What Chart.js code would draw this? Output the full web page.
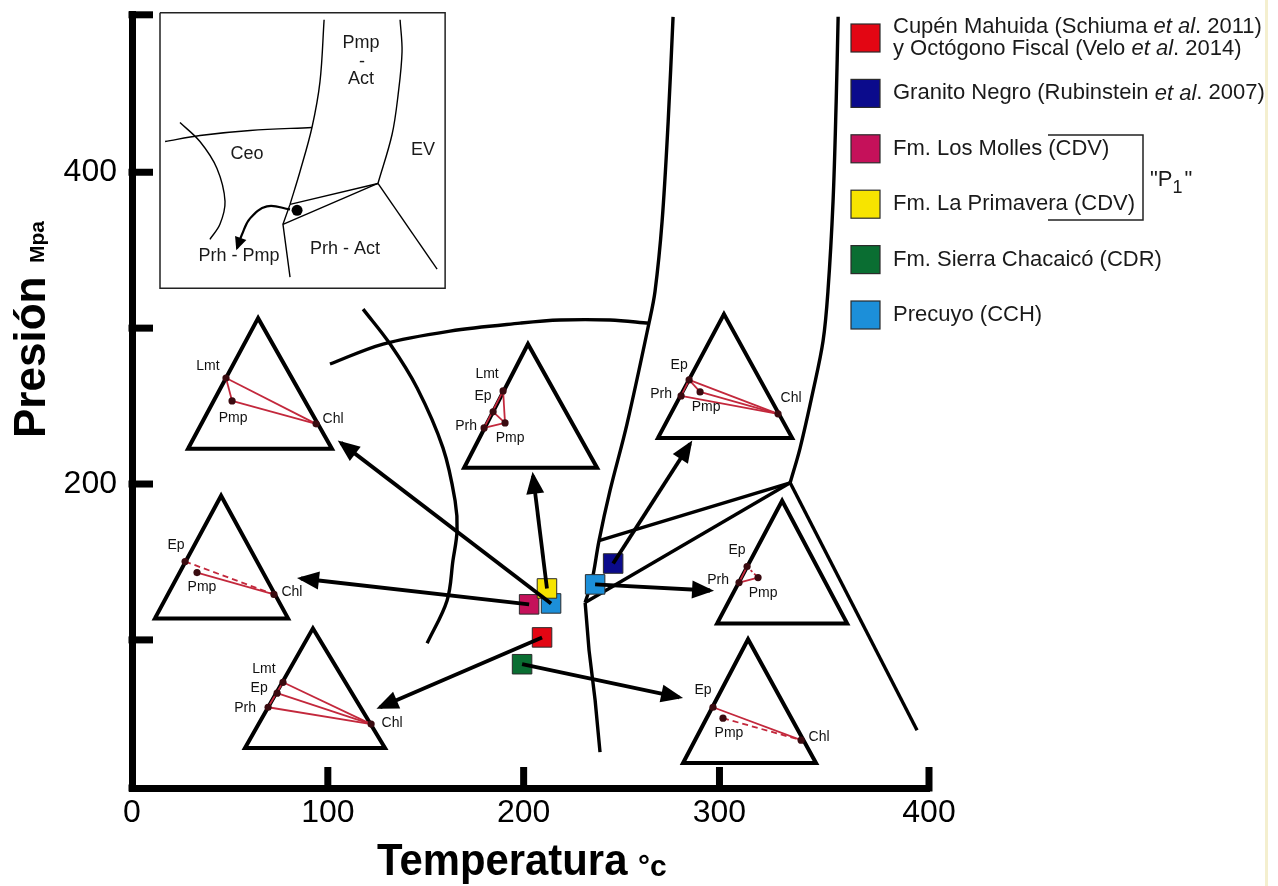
<!DOCTYPE html>
<html><head><meta charset="utf-8">
<script src="https://cdn.jsdelivr.net/npm/chart.js@4.4.1/dist/chart.umd.min.js"></script>
<style>html,body{margin:0;padding:0;background:#fff;}canvas{display:block;}</style>
</head><body>
<canvas id="c" width="1278" height="886"></canvas>
<script>
// ---------- Axis ticks ----------
const xTickValues = [0, 100, 200, 300, 407];
const xTickLabels = ['0', '100', '200', '300', '400'];
const yTickValues = [100, 200, 300, 400];
const yTickLabels = ['', '200', '', '400'];

// ---------- Series (Temperatura °C, Presión MPa) ----------
const seriesNames = [
  'Cupén Mahuida (Schiuma et al. 2011)\ny Octógono Fiscal (Velo et al. 2014)',
  'Granito Negro (Rubinstein et al. 2007)',
  'Fm. Los Molles (CDV)',
  'Fm. La Primavera (CDV)',
  'Fm. Sierra Chacaicó (CDR)',
  'Precuyo (CCH)'
];
const seriesColors = ['#e30613', '#0b0b8c', '#c5115a', '#f7e400', '#0a6e32', '#1c8fd9'];
const cupenT = [209.4], cupenP = [101.6];
const granitoT = [245.7], granitoP = [149.0];
const mollesT = [202.8], mollesP = [122.8];
const primaveraT = [211.9], primaveraP = [133.0];
const sierraT = [199.2], sierraP = [84.4];
const precuyoT = [214.0, 236.5], precuyoP = [123.4, 135.6];

// ---------- Facies boundaries ----------
const bWestT = [276.3, 273.8, 270.7, 267.1, 264.0, 252.8, 244.1, 238.5, 234.9, 231.4];
const bWestP = [499.7, 432.5, 368.5, 323.7, 303.2, 238.6, 195.7, 163.7, 138.1, 124.0];
const bLowT = [231.4, 233.4, 236.5, 239.0];
const bLowP = [124.0, 93.3, 61.3, 28.0];
const bEvT = [360.6, 359.6, 358.0, 355.4, 352.9, 347.8, 341.2, 336.1];
const bEvP = [499.7, 445.3, 381.3, 323.7, 291.7, 259.7, 223.2, 200.8];
const bSouthT = [336.1, 400.9], bSouthP = [200.8, 42.1];
const bWedgeUpT = [238.5, 336.1], bWedgeUpP = [163.7, 200.8];
const bWedgeLowT = [231.4, 336.1], bWedgeLowP = [124.0, 200.8];
const bTopT = [101.1, 128.2, 162.4, 198.2, 218.6, 244.1, 264.0];
const bTopP = [277.0, 289.8, 298.1, 303.2, 305.2, 305.2, 303.2];
const bCeoT = [118.0, 131.8, 145.6, 158.8, 165.0, 166.0, 163.9, 160.9, 150.7];
const bCeoP = [312.2, 289.8, 261.6, 223.2, 189.3, 170.1, 150.9, 125.3, 97.8];

// ---------- Arrows (from sample to ternary diagram) ----------
const arrowFromT = [214.0, 211.9, 202.8, 209.4, 199.2, 236.5, 245.7];
const arrowFromP = [123.4, 133.0, 122.8, 101.6, 84.4, 135.6, 149.0];
const arrowTipT = [106.7, 204.8, 86.3, 126.7, 279.4, 295.2, 285.0];
const arrowTipP = [226.4, 205.3, 139.4, 56.8, 63.2, 131.7, 225.8];

// ---------- Ternary diagrams ----------
const triApexT = [64.4, 202.2, 302.3, 332.0, 314.6, 45.5, 92.4];
const triApexP = [306.4, 289.8, 309.0, 189.3, 100.4, 192.5, 107.4];
const triLeftT = [28.6, 169.6, 268.6, 298.8, 281.4, 11.7, 57.7];
const triRightT = [102.1, 237.5, 337.1, 365.2, 349.3, 79.7, 129.2];
const triBaseP = [222.6, 210.4, 229.6, 110.6, 21.0, 113.8, 30.6];
const minNames = [['Lmt','Pmp','Chl'], ['Lmt','Ep','Prh','Pmp'], ['Ep','Prh','Pmp','Chl'], ['Ep','Prh','Pmp'], ['Ep','Pmp','Chl'], ['Ep','Pmp','Chl'], ['Lmt','Ep','Prh','Chl']];
const minT = [[48.0,51.1,94.0], [189.5,184.4,179.8,190.5], [284.5,280.4,290.1,329.9], [314.1,310.0,319.7], [296.7,301.8,341.7], [27.1,33.2,72.5], [77.1,74.1,69.5,122.1]];
const minP = [[268.0,253.3,238.6], [259.7,246.3,236.0,239.2], [266.8,256.5,259.1,245.0], [147.1,136.8,140.0], [56.8,49.8,35.7], [150.3,143.2,129.2], [72.8,65.8,56.8,46.0]];
const tieSolid = [[[0,2],[0,1],[1,2]], [[0,2],[0,3],[2,3],[1,3]], [[0,1],[0,3],[1,3],[2,3],[0,2]], [[0,1],[1,2]], [[0,2]], [[1,2]], [[0,3],[1,3],[2,3],[0,2]]];
const tieDashed = [[], [], [], [[0,2]], [[1,2]], [[0,2]], []];

// ---------- Inset sketch ----------
const insetBoxT = [14.3, 159.9, 159.9, 14.3, 14.3], insetBoxP = [502.3, 502.3, 325.6, 325.6, 502.3];
const iWestT = [98.1, 96.0, 91.9, 85.8, 80.7], iWestP = [497.8, 458.1, 428.7, 400.5, 379.4];
const iWestLowT = [80.7, 77.1, 80.7], iWestLowP = [379.4, 366.6, 332.7];
const iEastT = [136.9, 137.9, 135.9, 132.8, 125.6], iEastP = [497.8, 477.3, 449.8, 424.2, 392.8];
const iSouthT = [125.6, 155.8], iSouthP = [392.8, 337.8];
const iWedgeUpT = [80.7, 125.6], iWedgeUpP = [379.4, 392.8];
const iWedgeLowT = [77.1, 125.6], iWedgeLowP = [366.6, 392.8];
const iTopT = [16.9, 34.7, 60.3, 91.9], iTopP = [419.7, 423.6, 426.8, 428.7];
const iCeoT = [24.5, 34.7, 43.4, 47.5, 44.9, 39.8], iCeoP = [431.9, 419.7, 402.4, 381.3, 366.6, 357.0];
const iDotT = [84.3], iDotP = [375.6];
const iPathT = [80.7, 68.9, 60.3, 56.2, 53.6], iPathP = [376.2, 378.1, 370.4, 360.2, 351.2];
const iLabels = ['Pmp', '-', 'Act', 'Ceo', 'EV', 'Prh - Pmp', 'Prh - Act'];
const iLabelT = [117.0, 117.5, 117.0, 58.7, 148.6, 54.6, 108.8];
const iLabelP = [483.1, 470.9, 460.0, 412.0, 414.0, 346.1, 350.6];

// ---------- Styles (pixels) ----------
const FONT = '"Liberation Sans", Arial, sans-serif';
const RED = '#c3283c';
const labelOffsets = [
  [[-18,-12],[1,17],[17,-5]],
  [[-16,-17],[-10,-16],[-18,-2],[5,15]],
  [[-10,-15],[-20,-2],[6,15],[13,-16]],
  [[-10,-16],[-21,-2],[5,16]],
  [[-10,-17],[6,15],[18,-3]],
  [[-9,-16],[5,15],[18,-2]],
  [[-19,-13],[-18,-5],[-23,1],[21,-1]]
];
const dashStyles = [[], [], [], [2.5,2.5], [6,4], [6,4], []];

Chart.defaults.font.family = FONT;
Chart.defaults.color = '#000';

const xy = (T, P) => T.map((t, i) => ({x: t, y: P[i]}));
const datasets = [];
function lineDs(T, P, style) {
  datasets.push(Object.assign({
    data: xy(T, P), showLine: true, pointRadius: 0, pointHoverRadius: 0,
    borderColor: '#000', backgroundColor: '#000', fill: false, clip: false,
    borderCapStyle: 'butt', borderJoinStyle: 'round', tension: 0
  }, style));
}

// boundaries
const BW = 3.4;
lineDs(bWestT, bWestP, {borderWidth: BW, tension: 0.35, order: 7});
lineDs(bLowT, bLowP, {borderWidth: BW, order: 7});
lineDs(bEvT, bEvP, {borderWidth: BW, tension: 0.35, order: 7});
lineDs(bSouthT, bSouthP, {borderWidth: BW, order: 7});
lineDs(bWedgeUpT, bWedgeUpP, {borderWidth: BW, order: 7});
lineDs(bWedgeLowT, bWedgeLowP, {borderWidth: BW, order: 7});
lineDs(bTopT, bTopP, {borderWidth: BW, tension: 0.35, order: 7});
lineDs(bCeoT, bCeoP, {borderWidth: BW, tension: 0.35, order: 7});

// ternary triangles, tie lines and minerals
triApexT.forEach((a, t) => {
  lineDs([triLeftT[t], a, triRightT[t], triLeftT[t], a],
         [triBaseP[t], triApexP[t], triBaseP[t], triBaseP[t], triApexP[t]],
         {borderWidth: 4, borderJoinStyle: 'miter', order: 6});
  tieSolid[t].forEach(([i, j]) => lineDs([minT[t][i], minT[t][j]], [minP[t][i], minP[t][j]],
    {borderWidth: 1.8, borderColor: RED, order: 5}));
  tieDashed[t].forEach(([i, j]) => lineDs([minT[t][i], minT[t][j]], [minP[t][i], minP[t][j]],
    {borderWidth: 1.8, borderColor: RED, borderDash: dashStyles[t], order: 5}));
  datasets.push({data: xy(minT[t], minP[t]), showLine: false, pointRadius: 3.6, pointHoverRadius: 3.6,
    pointBackgroundColor: '#3a0b10', pointBorderColor: '#3a0b10', pointBorderWidth: 0, clip: false, order: 4});
});

// inset sketch
const IW = 1.4;
lineDs(insetBoxT, insetBoxP, {borderWidth: 1.5, borderColor: '#222', borderJoinStyle: 'miter', order: 3});
lineDs(iWestT, iWestP, {borderWidth: IW, tension: 0.35, order: 3});
lineDs(iWestLowT, iWestLowP, {borderWidth: IW, order: 3});
lineDs(iEastT, iEastP, {borderWidth: IW, tension: 0.35, order: 3});
lineDs(iSouthT, iSouthP, {borderWidth: IW, order: 3});
lineDs(iWedgeUpT, iWedgeUpP, {borderWidth: IW, order: 3});
lineDs(iWedgeLowT, iWedgeLowP, {borderWidth: IW, order: 3});
lineDs(iTopT, iTopP, {borderWidth: IW, tension: 0.35, order: 3});
lineDs(iCeoT, iCeoP, {borderWidth: IW, tension: 0.35, order: 3});
lineDs(iPathT, iPathP, {borderWidth: 2.2, tension: 0.4, order: 3, arrow: {len: 13, half: 6, ext: 2}});
datasets.push({data: xy(iDotT, iDotP), showLine: false, pointRadius: 5.5, pointHoverRadius: 5.5,
  pointBackgroundColor: '#000', pointBorderWidth: 0, clip: false, order: 3});

// sample squares
const seriesT = [cupenT, granitoT, mollesT, primaveraT, sierraT, precuyoT];
const seriesP = [cupenP, granitoP, mollesP, primaveraP, sierraP, precuyoP];
seriesNames.forEach((n, i) => datasets.push({
  label: n, data: xy(seriesT[i], seriesP[i]), showLine: false, pointStyle: 'rect',
  pointRadius: 13.8, pointHoverRadius: 13.8, pointBackgroundColor: seriesColors[i],
  pointBorderColor: '#2b2b2b', pointBorderWidth: 1, clip: false, order: i === 3 ? 1 : 2
}));

// arrows
arrowTipT.forEach((t, i) => lineDs([arrowFromT[i], t], [arrowFromP[i], arrowTipP[i]],
  {borderWidth: 3.8, order: 0, arrow: {len: 22, half: 9, ext: 4}}));

const decor = {
  id: 'decor',
  afterDatasetsDraw(chart) {
    const ctx = chart.ctx;
    chart.data.datasets.forEach((ds, i) => {
      if (!ds.arrow) return;
      const pts = chart.getDatasetMeta(i).data;
      const b = pts[pts.length - 1];
      let ax, ay;
      if (ds.tension > 0 && b.cp1x !== undefined && (b.cp1x !== b.x || b.cp1y !== b.y)) { ax = b.cp1x; ay = b.cp1y; }
      else { ax = pts[pts.length - 2].x; ay = pts[pts.length - 2].y; }
      const ang = Math.atan2(b.y - ay, b.x - ax);
      const {len, half, ext} = ds.arrow;
      ctx.save();
      ctx.translate(b.x, b.y); ctx.rotate(ang);
      ctx.fillStyle = '#000';
      ctx.beginPath(); ctx.moveTo(ext, 0); ctx.lineTo(ext - len, half); ctx.lineTo(ext - len, -half); ctx.closePath(); ctx.fill();
      ctx.restore();
    });
  },
  afterDraw(chart) {
    const ctx = chart.ctx, xs = chart.scales.x, ys = chart.scales.y, ca = chart.chartArea;
    ctx.save();
    // inward tick marks and axis end caps
    ctx.fillStyle = '#000';
    ys.ticks.forEach(t => { const py = ys.getPixelForValue(t.value); ctx.fillRect(ca.left - 3.5, py - 3.5, 24.5, 7); });
    ctx.fillRect(ca.left - 3.5, ca.top - 3.5, 24.5, 7);
    xs.ticks.forEach(t => { if (t.value === xs.min) return; const px = xs.getPixelForValue(t.value); ctx.fillRect(px - 3.5, ca.bottom - 21, 7, 24.5); });
    ctx.fillRect(ca.left - 3.5, ca.bottom - 3.5, 7, 7);

    // axis titles
    ctx.fillStyle = '#000';
    ctx.textAlign = 'left'; ctx.textBaseline = 'alphabetic';
    ctx.save();
    ctx.translate(45, 438); ctx.rotate(-Math.PI / 2);
    ctx.font = 'bold 44px ' + FONT; ctx.fillText('Presión', 0, 0);
    ctx.font = 'bold 21px ' + FONT; ctx.fillText('Mpa', 175, -1);
    ctx.restore();
    ctx.save();
    ctx.translate(377, 875); ctx.scale(0.93, 1);
    ctx.font = 'bold 45px ' + FONT; ctx.fillText('Temperatura', 0, 0);
    ctx.restore();
    ctx.font = 'bold 30px ' + FONT; ctx.fillText('°c', 638, 876);

    // ternary labels
    ctx.font = '14px ' + FONT; ctx.fillStyle = '#111';
    ctx.textAlign = 'center'; ctx.textBaseline = 'middle';
    minNames.forEach((names, t) => names.forEach((n, j) => {
      const px = xs.getPixelForValue(minT[t][j]) + labelOffsets[t][j][0];
      const py = ys.getPixelForValue(minP[t][j]) + labelOffsets[t][j][1];
      ctx.fillText(n, px, py);
    }));
    // inset labels
    ctx.font = '18px ' + FONT; ctx.fillStyle = '#1a1a1a';
    iLabels.forEach((n, i) => ctx.fillText(n, xs.getPixelForValue(iLabelT[i]), ys.getPixelForValue(iLabelP[i])));

    // legend
    const L = {sqX: 851, sqW: 29, sqH: 28, cy0: 38, step: 55.4, textX: 893, size: 22, lineH: 22};
    ctx.textAlign = 'left'; ctx.textBaseline = 'middle';
    seriesNames.forEach((name, i) => {
      const cy = L.cy0 + i * L.step;
      ctx.fillStyle = seriesColors[i];
      ctx.fillRect(L.sqX, cy - L.sqH / 2, L.sqW, L.sqH);
      ctx.strokeStyle = '#2b2b2b'; ctx.lineWidth = 1.2;
      ctx.strokeRect(L.sqX, cy - L.sqH / 2, L.sqW, L.sqH);
      const lines = name.split('\n');
      lines.forEach((ln, k) => {
        const y = cy - (lines.length - 1) * L.lineH / 2 + k * L.lineH;
        let x = L.textX;
        ln.split(/(et al)/).forEach(p => {
          if (!p) return;
          ctx.font = (p === 'et al' ? 'italic ' : '') + L.size + 'px ' + FONT;
          ctx.fillStyle = '#1a1a1a';
          ctx.fillText(p, x, y);
          x += ctx.measureText(p).width;
        });
      });
    });
    // bracket for "P1"
    ctx.strokeStyle = '#222'; ctx.lineWidth = 1.5;
    ctx.beginPath(); ctx.moveTo(1048, 135); ctx.lineTo(1143, 135); ctx.lineTo(1143, 220); ctx.lineTo(1048, 220); ctx.stroke();
    ctx.fillStyle = '#1a1a1a'; ctx.textBaseline = 'alphabetic';
    ctx.font = '22px ' + FONT; ctx.fillText('"P', 1150, 186);
    let w = ctx.measureText('"P').width;
    ctx.font = '18px ' + FONT; ctx.fillText('1', 1150 + w, 193);
    const w1 = ctx.measureText('1').width;
    ctx.font = '22px ' + FONT; ctx.fillText('"', 1152 + w + w1, 186);

    // faint right edge line
    ctx.fillStyle = '#f4efcf'; ctx.fillRect(1265, 0, 3, 886);
    ctx.restore();
  }
};

new Chart(document.getElementById('c'), {
  type: 'line',
  data: {datasets},
  options: {
    responsive: false, animation: false, events: [],
    layout: {padding: {left: 0, right: 349, top: 13.5, bottom: 0}},
    plugins: {legend: {display: false}, tooltip: {enabled: false}},
    scales: {
      x: {
        type: 'linear', position: 'bottom', min: 0, max: 407,
        afterBuildTicks: s => { s.ticks = xTickValues.map(v => ({value: v})); },
        afterFit: s => { s.height = 98; s.paddingLeft = 0; s.paddingRight = 0; },
        ticks: {callback: (v, i) => xTickLabels[i], font: {size: 32}, color: '#000', padding: 6, maxRotation: 0, autoSkip: false},
        grid: {display: true, drawOnChartArea: false, drawTicks: false},
        border: {display: true, width: 7, color: '#000'}
      },
      y: {
        type: 'linear', position: 'left', min: 5, max: 501,
        afterBuildTicks: s => { s.ticks = yTickValues.map(v => ({value: v})); },
        afterFit: s => { s.width = 132; s.paddingTop = 0; s.paddingBottom = 0; },
        ticks: {callback: (v, i) => yTickLabels[i], font: {size: 32}, color: '#000', padding: 15, autoSkip: false},
        grid: {display: true, drawOnChartArea: false, drawTicks: false},
        border: {display: true, width: 7, color: '#000'}
      }
    }
  },
  plugins: [decor]
});
</script>
</body></html>
